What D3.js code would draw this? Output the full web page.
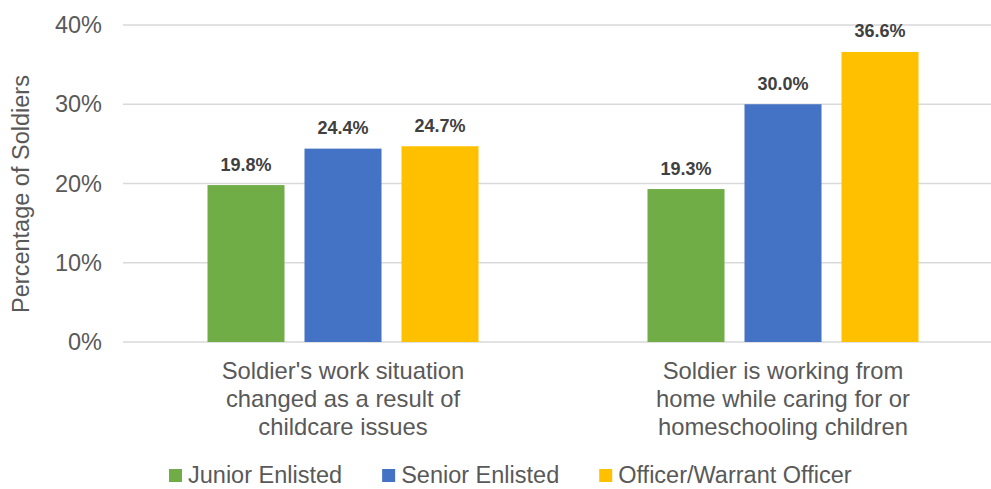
<!DOCTYPE html>
<html>
<head>
<meta charset="utf-8">
<script src="https://cdn.jsdelivr.net/npm/d3@7/dist/d3.min.js"></script>
<style>
  html, body { margin: 0; padding: 0; background: #fff; }
  svg { display: block; font-family: "Liberation Sans", Arial, sans-serif; }
</style>
</head>
<body>
<svg id="chart" width="991" height="489"></svg>
<script>
// Data
const categories = [
  ["Soldier's work situation", "changed as a result of", "childcare issues"],
  ["Soldier is working from", "home while caring for or", "homeschooling children"]
];
const seriesNames = ["Junior Enlisted", "Senior Enlisted", "Officer/Warrant Officer"];
const seriesColors = ["#70ad47", "#4472c4", "#ffc000"];
const juniorEnlisted = [19.8, 19.3];
const seniorEnlisted = [24.4, 30.0];
const officerWarrant = [24.7, 36.6];
const yTicks = [0, 10, 20, 30, 40];
const yTitle = "Percentage of Soldiers";

const seriesValues = [juniorEnlisted, seniorEnlisted, officerWarrant];

const svg = d3.select("#chart");

const plotLeft = 123, plotRight = 1003, plotTop = 25, plotBottom = 342;

const y = d3.scaleLinear().domain([0, 40]).range([plotBottom, plotTop]);
const x0 = d3.scaleBand().domain(d3.range(categories.length)).range([plotLeft, plotRight]).padding(0);
const x1 = d3.scaleBand().domain(d3.range(seriesNames.length)).range([0, x0.bandwidth()])
  .paddingInner(20 / 97).paddingOuter(0.871);

// Gridlines
svg.append("g").selectAll("line").data(yTicks).join("line")
  .attr("x1", plotLeft).attr("x2", plotRight)
  .attr("y1", d => y(d)).attr("y2", d => y(d))
  .attr("stroke", "#d9d9d9").attr("stroke-width", 1.3);

// Y axis tick labels
const yAxis = d3.axisLeft(y).tickValues(yTicks).tickFormat(d => d + "%").tickSize(0).tickPadding(0);
const yg = svg.append("g").attr("transform", `translate(102,0)`).call(yAxis);
yg.select(".domain").remove();
yg.selectAll("text")
  .attr("fill", "#595959")
  .style("font-size", "23.5px")
  .style("font-family", "'Liberation Sans', Arial, sans-serif");

// Y axis title
svg.append("text")
  .attr("transform", `translate(28.5,194) rotate(-90)`)
  .attr("text-anchor", "middle")
  .attr("fill", "#595959")
  .style("font-size", "23.5px")
  .text(yTitle);

// Bars
const groups = svg.append("g").selectAll("g").data(categories.map((c, i) => i)).join("g")
  .attr("transform", i => `translate(${x0(i)},0)`);

groups.selectAll("rect").data(i => seriesValues.map((vals, s) => ({ s, v: vals[i] }))).join("rect")
  .attr("x", d => x1(d.s))
  .attr("width", x1.bandwidth())
  .attr("y", d => y(d.v))
  .attr("height", d => plotBottom - y(d.v))
  .attr("fill", d => seriesColors[d.s]);

// Value labels
groups.selectAll("text.val").data(i => seriesValues.map((vals, s) => ({ s, v: vals[i] }))).join("text")
  .attr("class", "val")
  .attr("x", d => x1(d.s) + x1.bandwidth() / 2)
  .attr("y", d => y(d.v) - 14.5)
  .attr("text-anchor", "middle")
  .attr("fill", "#404040")
  .style("font-size", "18px")
  .style("font-weight", "bold")
  .text(d => d.v.toFixed(1) + "%");

// Category labels
categories.forEach((lines, i) => {
  const t = svg.append("text")
    .attr("text-anchor", "middle")
    .attr("fill", "#595959")
    .style("font-size", "23.8px");
  lines.forEach((ln, k) => {
    t.append("tspan")
      .attr("x", x0(i) + x0.bandwidth() / 2)
      .attr("y", 379 + k * 28)
      .text(ln);
  });
});

// Legend
const legend = svg.append("g");
let lx = 169;
seriesNames.forEach((name, s) => {
  legend.append("rect")
    .attr("x", lx).attr("y", 469).attr("width", 13).attr("height", 13)
    .attr("fill", seriesColors[s]);
  const t = legend.append("text")
    .attr("x", lx + 19).attr("y", 483)
    .attr("fill", "#595959")
    .style("font-size", "23.5px")
    .text(name);
  lx += 19 + t.node().getComputedTextLength() + 40;
});
</script>
</body>
</html>
